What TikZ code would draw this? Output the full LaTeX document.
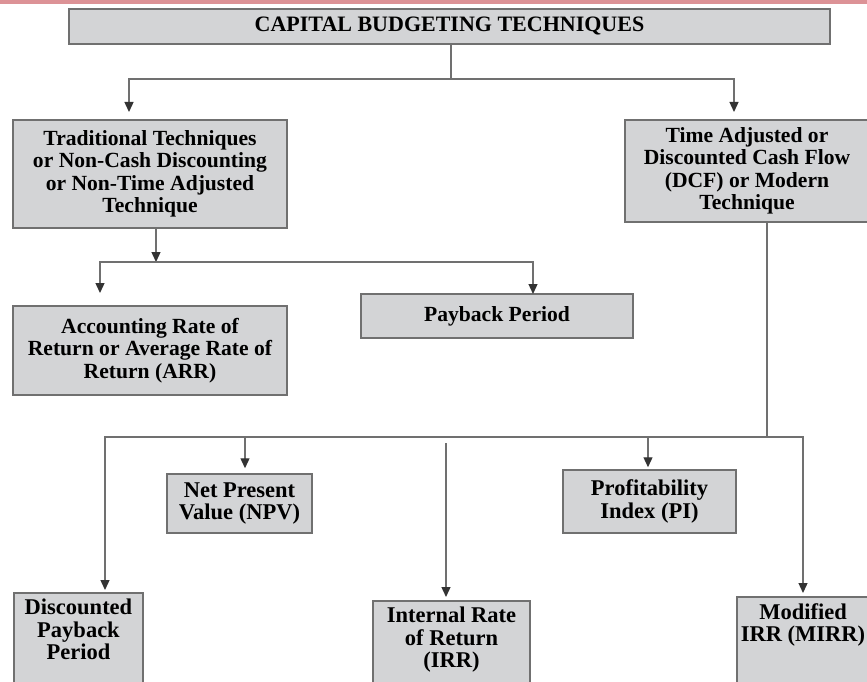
\documentclass[tikz,border=0pt]{standalone}
\usepackage{fontspec}
\setmainfont{Liberation Serif}
\usetikzlibrary{arrows.meta}

\definecolor{boxgray}{RGB}{211,212,214}
\definecolor{edgegray}{RGB}{112,112,112}
\definecolor{bandpink}{RGB}{220,146,150}

\begin{document}
\begin{tikzpicture}[x = 1pt, y = -1pt,
	box/.style = {draw = edgegray, fill = boxgray, line width = 1.5pt, align = center, inner sep = 0pt},
	plain/.style = {box, font = \bfseries\fontsize{21.6}{22.5}\selectfont},
	narrow/.style = {box, font = \bfseries\fontsize{22.5}{22.5}\selectfont},
	link/.style = {draw = edgegray, line width = 1.3pt},
	pointed/.style = {-{Triangle[length = 10pt, width = 9pt, color = black!80]}}]

	\useasboundingbox (0, 0) rectangle (867, 682);
	\clip (0, 0) rectangle (867, 682);

	% Band along the top edge
	
	\fill [bandpink] (0, 0) rectangle (867, 4);
	
	% Heading and the two families
	
	\node [box, font = \bfseries\fontsize{22}{22}\selectfont, minimum width = 761pt, minimum height = 35pt]
		(title) at (449.5, 26.5) {CAPITAL BUDGETING TECHNIQUES};
	
	\node [plain, minimum width = 274pt, minimum height = 108pt] (trad) at (150, 174)
		{Traditional Techniques\\or Non-Cash Discounting\\or Non-Time Adjusted\\Technique};
	\node [plain, minimum width = 244pt, minimum height = 102pt] (dcf) at (747, 171)
		{Time Adjusted or\\Discounted Cash Flow\\(DCF) or Modern\\Technique};
	
	% Traditional methods
	
	\node [plain, minimum width = 274pt, minimum height = 89pt] (arr) at (150, 350.5)
		{Accounting Rate of\\Return or Average Rate of\\Return (ARR)};
	\node [plain, minimum width = 272pt, minimum height = 44pt] (pay) at (497, 316) {Payback Period};
	
	% Discounted cash flow methods
	
	\begin{scope}[every node/.append style = {narrow}]
	
		\node [minimum width = 145pt, minimum height = 59pt] (npv) at (239.5, 503.5) {Net Present\\Value (NPV)};
		\node [minimum width = 173pt, minimum height = 63pt] (pi) at (649.5, 501.5) {Profitability\\Index (PI)};
		\node [anchor = north, inner ysep = 6.5pt, minimum width = 129pt] (dpp) at (78.5, 592)
			{Discounted\\Payback\\Period\rule[-60pt]{0pt}{0pt}};
		\node [anchor = north, inner ysep = 6.5pt, minimum width = 157pt] (irr) at (451.5, 600)
			{Internal Rate\\of Return\\(IRR)\rule[-60pt]{0pt}{0pt}};
		\node [anchor = north, inner ysep = 6.5pt, minimum width = 132pt] (mirr) at (803, 596)
			{Modified\\IRR (MIRR)\rule[-80pt]{0pt}{0pt}};
	
	\end{scope}
	
	% Split points of the connectors
	
	\coordinate (top split) at (451, 79);
	\coordinate (trad in) at (129, 112);
	\coordinate (dcf in) at (734, 112);
	\coordinate (trad split) at (156, 262);
	\coordinate (arr in) at (100, 293);
	\coordinate (pay in) at (533, 294);
	\coordinate (dcf split) at (767, 437);
	\coordinate (bus left) at (105, 437);
	\coordinate (npv drop) at (245, 437);
	\coordinate (pi drop) at (648, 437);
	\coordinate (irr top) at (446, 443);
	
	% Connectors
	
	\draw [link] (title.south -| top split) -- (top split);
	\draw [link, pointed] (top split) -| (trad in);
	\draw [link, pointed] (top split) -| (dcf in);
	
	\draw [link, pointed] (trad.south -| trad split) -- (trad split);
	\draw [link, pointed] (trad split) -| (arr in);
	\draw [link, pointed] (trad split) -| (pay in);
	
	\draw [link] (dcf.south -| dcf split) -- (dcf split);
	\draw [link, pointed, shorten >= 2pt] (dcf split) -- (bus left) -- (bus left |- dpp.north);
	\draw [link, pointed, shorten >= 3pt] (dcf split) -| (mirr.north);
	\draw [link, pointed, shorten >= 5pt] (npv drop) -- (npv.north -| npv drop);
	\draw [link, pointed, shorten >= 2pt] (pi drop) -- (pi.north -| pi drop);
	\draw [link, pointed, shorten >= 3pt] (irr top) -- (irr.north -| irr top);
	
\end{tikzpicture}
\end{document}
